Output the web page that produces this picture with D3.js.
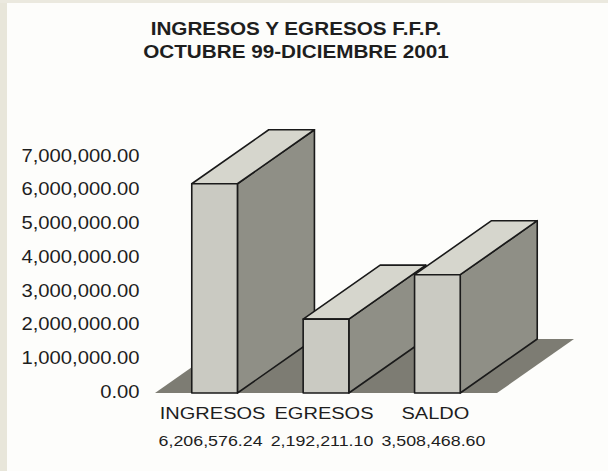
<!DOCTYPE html>
<html>
<head>
<meta charset="utf-8">
<script src="https://cdn.jsdelivr.net/npm/d3@7"></script>
<style>
  body { margin: 0; background: #fdfdfb; }
  svg { display: block; font-family: "Liberation Sans", Arial, sans-serif; }
</style>
</head>
<body>
<svg id="chart" width="608" height="471"></svg>
<script>
// chart data
const categories = ["INGRESOS", "EGRESOS", "SALDO"];
const values = [6206576.24, 2192211.10, 3508468.60];
const yTicks = [0, 1000000, 2000000, 3000000, 4000000, 5000000, 6000000, 7000000];
const titleLines = ["INGRESOS Y EGRESOS F.F.P.", "OCTUBRE 99-DICIEMBRE 2001"];

const svg = d3.select("#chart");
const W = 608, H = 471;
const stretch = 1.15;       // the scan is a bit wide, stretch text to match
const depth = { dx: 77, dy: -54 };

// scanned paper edge
svg.append("rect").attr("width", W).attr("height", H).attr("fill", "#fdfdfb");
svg.append("rect").attr("width", 7).attr("height", H).attr("fill", "#e8e6da");
svg.append("rect").attr("width", W).attr("height", 3).attr("fill", "#ebe9df");

// scales
const x = d3.scaleBand()
  .domain(categories)
  .range([155, 497])
  .paddingInner(0.59)
  .paddingOuter(0.33);

const y = d3.scaleLinear()
  .domain([0, 7000000])
  .range([393, 157]);

const fmt = d3.format(",.2f");

// title
svg.append("g").selectAll("text")
  .data(titleLines)
  .enter()
  .append("text")
  .attr("transform", (d, i) => "translate(296," + (35 + i * 23) + ") scale(" + stretch + ",1)")
  .attr("text-anchor", "middle")
  .style("font-size", "18px")
  .style("font-weight", "bold")
  .attr("fill", "#1e1e1e")
  .text(d => d);

// floor
const x0 = x.range()[0], x1 = x.range()[1], y0 = y(0);
svg.append("path")
  .attr("d", "M" + x0 + "," + y0 + "L" + x1 + "," + y0 +
             "L" + (x1 + depth.dx) + "," + (y0 + depth.dy) +
             "L" + (x0 + depth.dx) + "," + (y0 + depth.dy) + "Z")
  .attr("fill", "#7d7c73");

// bars, left to right so later ones cover earlier side faces
const bars = svg.append("g")
  .selectAll("g")
  .data(categories.map((c, i) => ({ cat: c, val: values[i] })))
  .enter()
  .append("g")
  .attr("stroke", "#1a1a1a")
  .attr("stroke-width", 1.6)
  .attr("stroke-linejoin", "round");

// side face
bars.append("path")
  .attr("fill", "#8f8f86")
  .attr("d", d => {
    const r = x(d.cat) + x.bandwidth(), t = y(d.val), b = y(0);
    return "M" + r + "," + b + "L" + r + "," + t +
           "L" + (r + depth.dx) + "," + (t + depth.dy) +
           "L" + (r + depth.dx) + "," + (b + depth.dy) + "Z";
  });

// top face
bars.append("path")
  .attr("fill", "#d6d6cd")
  .attr("d", d => {
    const l = x(d.cat), r = l + x.bandwidth(), t = y(d.val);
    return "M" + l + "," + t + "L" + r + "," + t +
           "L" + (r + depth.dx) + "," + (t + depth.dy) +
           "L" + (l + depth.dx) + "," + (t + depth.dy) + "Z";
  });

// front face
bars.append("rect")
  .attr("fill", "#cacac2")
  .attr("x", d => x(d.cat))
  .attr("y", d => y(d.val))
  .attr("width", x.bandwidth())
  .attr("height", d => y(0) - y(d.val));

// y axis labels
const yAxis = svg.append("g")
  .attr("transform", "translate(143,0)")
  .call(d3.axisLeft(y).tickValues(yTicks).tickFormat(fmt).tickSize(0).tickPadding(3));
yAxis.select(".domain").remove();
yAxis.selectAll("text")
  .attr("transform", "scale(" + stretch + ",1)")
  .attr("dy", "0.24em")
  .attr("fill", "#1e1e1e")
  .style("font-size", "17.6px")
  .style("font-family", "\"Liberation Sans\", Arial, sans-serif");

// category labels and values under the floor
const labels = svg.append("g");
labels.selectAll("text.cat")
  .data(categories)
  .enter()
  .append("text")
  .attr("class", "cat")
  .attr("transform", d => "translate(" + (x(d) + x.bandwidth() / 2 - 2) + ",419) scale(" + stretch + ",1)")
  .attr("text-anchor", "middle")
  .attr("fill", "#1e1e1e")
  .style("font-size", "17.4px")
  .text(d => d);

labels.selectAll("text.val")
  .data(values)
  .enter()
  .append("text")
  .attr("class", "val")
  .attr("transform", (d, i) => "translate(" + (x(categories[i]) + x.bandwidth() / 2 - 4) + ",446) scale(" + stretch + ",1)")
  .attr("text-anchor", "middle")
  .attr("fill", "#1e1e1e")
  .style("font-size", "15.5px")
  .text(d => fmt(d));
</script>
</body>
</html>
